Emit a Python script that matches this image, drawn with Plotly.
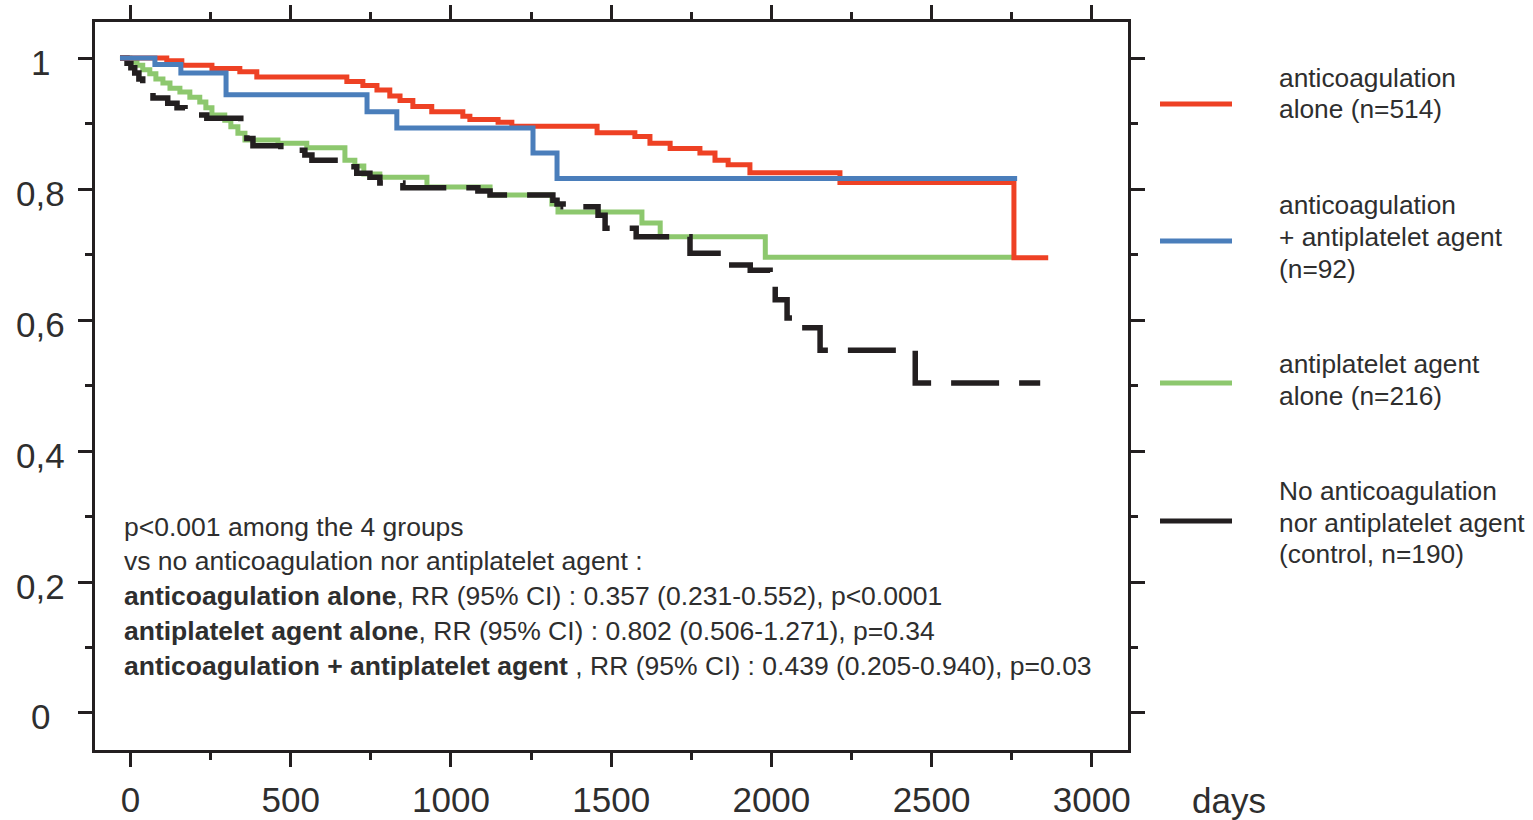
import plotly.graph_objects as go

# ---------------- data ----------------
red_days = [-33, 113, 160, 254, 341, 394, 675, 725, 769, 809, 841, 881, 940, 1037, 1059, 1147, 1190,
            1456, 1574, 1621, 1684, 1777, 1824, 1865, 1933, 2214, 2757, 2864]
red_surv = [1.000, 0.996, 0.989, 0.984, 0.979, 0.971, 0.964, 0.958, 0.951, 0.942, 0.935, 0.926, 0.918,
            0.911, 0.906, 0.902, 0.896, 0.886, 0.880, 0.870, 0.862, 0.855, 0.844, 0.837, 0.825, 0.810,
            0.695, 0.695]

blue_days = [-33, 76, 157, 298, 738, 831, 1256, 1331, 2767]
blue_surv = [1.000, 0.990, 0.977, 0.944, 0.918, 0.893, 0.855, 0.816, 0.816]

green_days = [-33, -2, 20, 38, 60, 79, 101, 123, 154, 185, 216, 235, 254, 294, 313, 335, 357, 460, 550,
              669, 700, 728, 778, 925, 1122, 1315, 1334, 1596, 1653, 1981, 2761]
green_surv = [1.000, 0.994, 0.989, 0.982, 0.976, 0.968, 0.962, 0.954, 0.948, 0.940, 0.933, 0.924, 0.913,
              0.905, 0.895, 0.885, 0.875, 0.870, 0.863, 0.844, 0.835, 0.823, 0.818, 0.803, 0.791, 0.777,
              0.765, 0.748, 0.727, 0.696, 0.696]

black_days = [-33, -11, 1, 13, 26, 38, 54, 70, 116, 145, 170, 238, 344, 363, 382, 469, 544, 566, 678, 706,
              747, 778, 850, 1084, 1122, 1318, 1331, 1350, 1459, 1481, 1578, 1746, 1865, 1934, 1996,
              2012, 2049, 2080, 2152, 2449, 2839]
black_surv = [1.000, 0.992, 0.985, 0.977, 0.968, 0.957, 0.948, 0.939, 0.931, 0.924, 0.913, 0.908, 0.888,
              0.877, 0.866, 0.859, 0.852, 0.844, 0.834, 0.824, 0.818, 0.809, 0.802, 0.797, 0.791, 0.783,
              0.777, 0.773, 0.760, 0.740, 0.727, 0.702, 0.684, 0.676, 0.656, 0.631, 0.603, 0.588, 0.554,
              0.504, 0.504]

x_ticks = [0, 500, 1000, 1500, 2000, 2500, 3000]
y_ticks = [0, 0.2, 0.4, 0.6, 0.8, 1]
y_tick_text = ["0", "0,2", "0,4", "0,6", "0,8", "1"]

legend_labels = [
    ["anticoagulation", "alone (n=514)"],
    ["anticoagulation", "+ antiplatelet agent", "(n=92)"],
    ["antiplatelet agent", "alone (n=216)"],
    ["No anticoagulation", "nor antiplatelet agent", "(control, n=190)"],
]

stats_lines = [
    "p&lt;0.001 among the 4 groups",
    "vs no anticoagulation nor antiplatelet agent :",
    "<b>anticoagulation alone</b>, RR (95% CI) : 0.357 (0.231-0.552), p&lt;0.0001",
    "<b>antiplatelet agent alone</b>, RR (95% CI) : 0.802 (0.506-1.271), p=0.34",
    "<b>anticoagulation + antiplatelet agent</b> , RR (95% CI) : 0.439 (0.205-0.940), p=0.03",
]

# ---------------- styling ----------------
RED = "#EE4124"
BLUE = "#4A7EBB"
GREEN = "#8DC86E"
BLACK = "#231F20"
AXIS = "#231F20"
TXT = "#2E2E2E"
FONT = "Liberation Sans, Arial, sans-serif"

W, H = 1533, 820
L, R, T, B = 95, 405, 22, 70
PW, PH = W - L - R, H - T - B


def px(xpix):
    return (xpix - L) / PW


def py(ypix):
    return (H - B - ypix) / PH


fig = go.Figure()
fig.add_trace(go.Scatter(x=green_days, y=green_surv, mode="lines", line=dict(color=GREEN, width=5, shape="hv"),
                         showlegend=False, hoverinfo="skip"))
fig.add_trace(go.Scatter(x=black_days, y=black_surv, mode="lines",
                         line=dict(color=BLACK, width=5.5, shape="hv", dash="48px,20px"),
                         showlegend=False, hoverinfo="skip"))
fig.add_trace(go.Scatter(x=red_days, y=red_surv, mode="lines", line=dict(color=RED, width=5, shape="hv"),
                         showlegend=False, hoverinfo="skip"))
fig.add_trace(go.Scatter(x=blue_days, y=blue_surv, mode="lines", line=dict(color=BLUE, width=5, shape="hv"),
                         showlegend=False, hoverinfo="skip"))

axis_common = dict(showgrid=False, zeroline=False, showline=True, linecolor=AXIS, linewidth=3,
                   mirror="ticks", ticks="outside", ticklen=14, tickwidth=2.5, tickcolor=AXIS)

fig.update_xaxes(range=[-111, 3113], tickvals=x_ticks, ticktext=[str(v) for v in x_ticks],
                 tickfont=dict(family=FONT, size=35, color=TXT), ticklabelstandoff=3,
                 minor=dict(dtick=250, tick0=0, ticks="outside", ticklen=7, tickwidth=2.5, tickcolor=AXIS),
                 **axis_common)
fig.update_yaxes(range=[-0.0565, 1.055], tickvals=y_ticks, showticklabels=False,
                 minor=dict(dtick=0.1, tick0=0, ticks="outside", ticklen=7, tickwidth=2.5, tickcolor=AXIS),
                 **axis_common)

annotations = []
# y tick labels (centered as in the reference)
for v, t in zip(y_ticks, y_tick_text):
    annotations.append(dict(x=px(40), y=v, xref="paper", yref="y", text=t, showarrow=False,
                            xanchor="center", yanchor="middle", yshift=-4,
                            font=dict(family=FONT, size=35, color=TXT)))
# axis title
annotations.append(dict(x=px(1190), y=py(800), xref="paper", yref="paper", text="days", showarrow=False,
                        xanchor="left", yanchor="middle", font=dict(family=FONT, size=35, color=TXT)))

# statistics text block
stats_y = [527, 561, 596, 631, 666]
for line, yy in zip(stats_lines, stats_y):
    annotations.append(dict(x=px(122), y=py(yy), xref="paper", yref="paper", text=line, showarrow=False,
                            xanchor="left", yanchor="middle", font=dict(family=FONT, size=26.5, color=TXT)))

# legend
legend_colors = [RED, BLUE, GREEN, BLACK]
legend_marker_y = [104, 241, 383, 521]
legend_text_y = [[78, 109], [205, 237, 269], [364, 396], [491, 523, 554]]
shapes = []
for col, my, lines, ys in zip(legend_colors, legend_marker_y, legend_labels, legend_text_y):
    shapes.append(dict(type="line", xref="paper", yref="paper", x0=px(1160), x1=px(1232), y0=py(my), y1=py(my),
                       line=dict(color=col, width=5)))
    for ln, yy in zip(lines, ys):
        annotations.append(dict(x=px(1277), y=py(yy), xref="paper", yref="paper", text=ln, showarrow=False,
                                xanchor="left", yanchor="middle", font=dict(family=FONT, size=26.3, color=TXT)))

fig.update_layout(width=W, height=H, margin=dict(l=L, r=R, t=T, b=B, autoexpand=False),
                  paper_bgcolor="white", plot_bgcolor="white", showlegend=False,
                  annotations=annotations, shapes=shapes)

fig.write_html("out.html", config={"displayModeBar": False})
